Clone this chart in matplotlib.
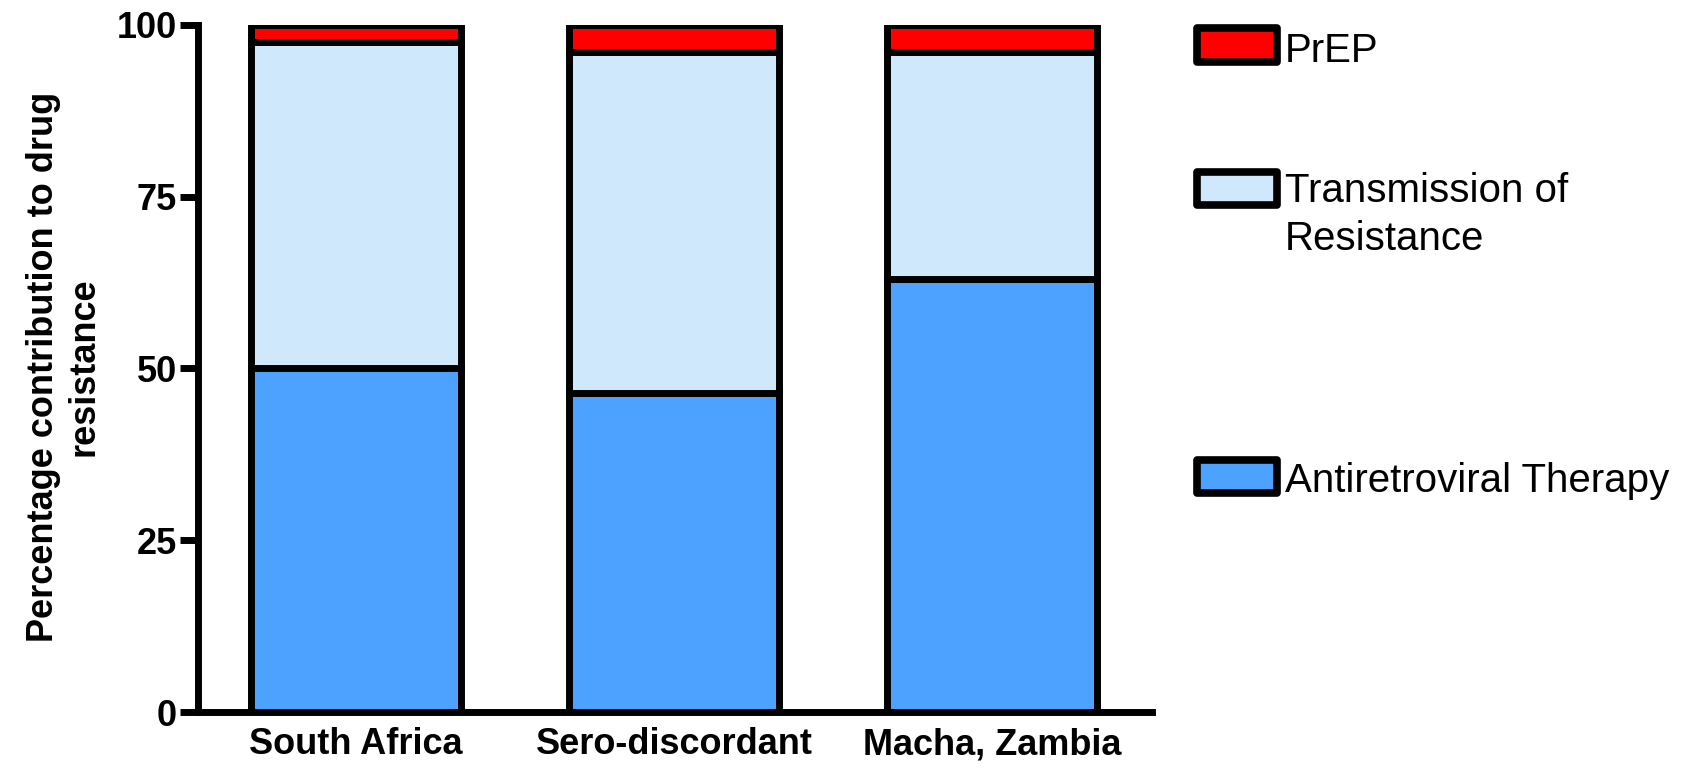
import matplotlib
matplotlib.use("Agg")
import matplotlib.pyplot as plt
from matplotlib.patches import Rectangle
import numpy as np

# ---- data ----
categories = ["South Africa", "Sero-discordant", "Macha, Zambia"]
art = [50.0, 46.5, 63.0]          # Antiretroviral Therapy
transmission = [47.5, 49.5, 33.0]  # Transmission of Resistance
prep = [2.5, 4.0, 4.0]             # PrEP
series_labels = ["Antiretroviral Therapy", "Transmission of\nResistance", "PrEP"]
series_colors = ["#4DA2FF", "#D0E8FB", "#FF0000"]
yticks = [0, 25, 50, 75, 100]

W, H = 1690, 772
fig = plt.figure(figsize=(W / 100, H / 100), dpi=100)

def fx(px):
    return px / W

def fy(py):
    return 1 - py / H

ax_left, ax_right, ax_top, ax_bottom = 198, 1152, 25, 712
ax = fig.add_axes([fx(ax_left), fy(ax_bottom), fx(ax_right - ax_left), (ax_bottom - ax_top) / H])

x = np.arange(len(categories))
lw = 5
bottoms = np.zeros(len(categories))
for vals, col in zip([art, transmission, prep], series_colors):
    ax.bar(x, vals, width=0.66, bottom=bottoms, color=col, edgecolor="black",
           linewidth=lw, zorder=2)
    bottoms = bottoms + np.array(vals)

ax.set_xlim(-(356 - ax_left) / 318, -(356 - ax_left) / 318 + (ax_right - ax_left) / 318)
ax.set_ylim(0, 100)
ax.set_yticks(yticks)
ax.set_yticklabels([str(v) for v in yticks])
ax.set_xticks(x)
ax.set_xticklabels(categories)

for s in ["top", "right"]:
    ax.spines[s].set_visible(False)
for s in ["left", "bottom"]:
    ax.spines[s].set_linewidth(lw)
    ax.spines[s].set_zorder(3)

fontfam = ["Liberation Sans", "DejaVu Sans"]
ax.tick_params(axis="y", direction="out", length=13, width=lw, pad=2,
               labelsize=26)
ax.tick_params(axis="x", length=0, pad=11, labelsize=26)
for lab in ax.get_xticklabels() + ax.get_yticklabels():
    lab.set_fontfamily(fontfam)
    lab.set_fontweight("bold")

fig.text(fx(64), fy(367), "Percentage contribution to drug\nresistance", rotation=90,
         ha="center", va="center", multialignment="center", fontsize=26,
         fontweight="bold", family=fontfam)

# ---- legend (manual, GraphPad style) ----
# (label, colour, patch top px, patch bottom px, baseline px of last text line)
legend_items = [
    (series_labels[2], series_colors[2], 28, 62, 62),
    (series_labels[1], series_colors[1], 172, 205, 250),
    (series_labels[0], series_colors[0], 460, 493, 492),
]
for label, col, ytop, ybot, base in legend_items:
    rect = Rectangle((fx(1197), fy(ybot)), fx(1277) - fx(1197), fy(ytop) - fy(ybot),
                     transform=fig.transFigure, facecolor=col, edgecolor="black",
                     linewidth=5.5, joinstyle="round")
    fig.add_artist(rect)
    fig.text(fx(1285), fy(base), label, ha="left", va="baseline", fontsize=29,
             family=fontfam, linespacing=1.32)

fig.savefig("out.png", dpi=100, facecolor="white")
